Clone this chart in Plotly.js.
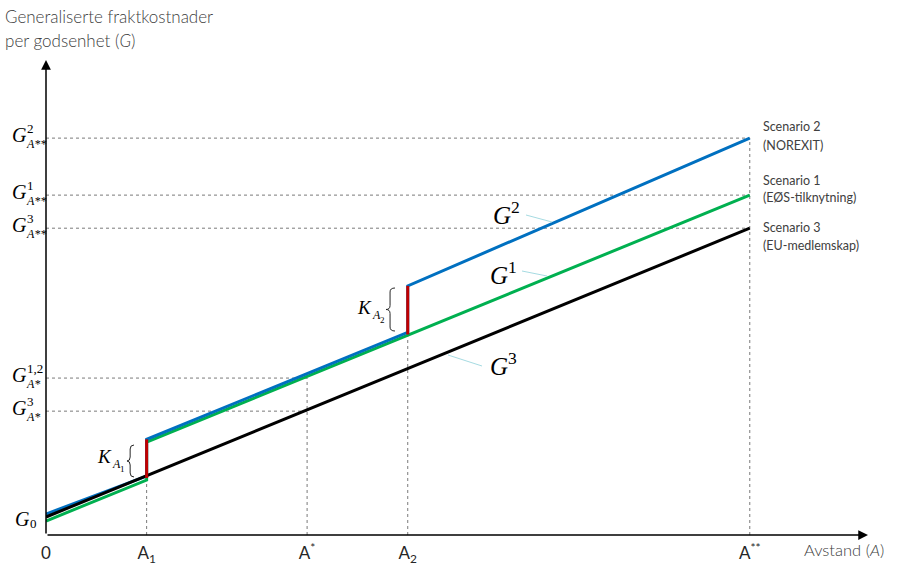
<!DOCTYPE html>
<html>
<head>
<meta charset="utf-8">
<script src="https://cdn.plot.ly/plotly-3.0.1.min.js"></script>
<style>
  html, body { margin: 0; padding: 0; background: #fff; }
  #chart { width: 897px; height: 568px; }
</style>
</head>
<body>
<div id="chart"></div>
<script>
// distance positions (A** = 100)
const xTickVals = [0, 14.3, 37.1, 51.4, 100];
const xTickText = ['0', 'A<sub>1</sub>', 'A<sup>*</sup>', 'A<sub>2</sub>', 'A<sup>**</sup>'];

// cost curves
const g2X = [0, 14.3, 14.3, 51.4, 51.4, 100];
const g2Y = [2.98, 8.38, 13.6, 28.8, 35.4, 56.4];
const g1X = [0, 14.3, 14.3, 100];
const g1Y = [1.99, 7.81, 13.2, 48.3];
const g3X = [0, 100];
const g3Y = [2.56, 43.6];

// border crossing jumps K
const kX = [14.3, 14.3, null, 51.4, 51.4];
const kY = [8.1, 13.6, null, 28.5, 35.4];

// dotted guides
const guideY = [56.4, 48.3, 43.6, 22.3, 17.6];
const guideYEnd = [100, 100, 100, 37.1, 37.1];
const guideYSup = ['2', '1', '3', '1,2', '3'];
const guideYSub = ['A**', 'A**', 'A**', 'A*', 'A*'];
const guideX = [14.3, 37.1, 51.4, 100];
const guideXTop = [8.1, 22.3, 28.5, 56.4];

const scenarioLines = [
  ['Scenario 2', 127], ['(NOREXIT)', 145],
  ['Scenario 1', 180], ['(EØS-tilknytning)', 198],
  ['Scenario 3', 227], ['(EU-medlemskap)', 245]
];

const xMax = 116.8, yMax = 67.5;
const L = 46, R = 868, T = 60, B = 535;
const px = v => (v - L) / (R - L);
const py = v => (B - v) / (B - T);

const sans = 'Lato, "Open Sans", sans-serif';
const serif = '"Liberation Serif", "DejaVu Serif", serif';
const txtCol = '#404040';

function ann(text, x, y, size, family, xanchor, color, weight) {
  return {
    text: text, x: px(x), y: py(y), xref: 'paper', yref: 'paper',
    showarrow: false, xanchor: xanchor || 'center', yanchor: 'middle',
    font: {family: family, size: size, color: color || '#000', weight: weight || 'normal'}
  };
}

// curly brace drawn as a thin path, pixel box -> paper coords
function brace(x, y0, y1, w) {
  const m = (y0 + y1) / 2, xi = x + w * 0.45, r = 4;
  const p = (a, b) => px(a).toFixed(5) + ',' + py(b).toFixed(5);
  const d = 'M' + p(x + w, y0) + ' Q' + p(xi, y0) + ' ' + p(xi, y0 + r) +
    ' L' + p(xi, m - r) + ' Q' + p(xi, m) + ' ' + p(x, m) +
    ' Q' + p(xi, m) + ' ' + p(xi, m + r) +
    ' L' + p(xi, y1 - r) + ' Q' + p(xi, y1) + ' ' + p(x + w, y1);
  return {type: 'path', xref: 'paper', yref: 'paper', path: d, line: {color: '#262626', width: 1}};
}

// guide line traces
const gx = [], gy = [];
guideY.forEach((v, i) => { gx.push(0, guideYEnd[i], null); gy.push(v, v, null); });
guideX.forEach((v, i) => { gx.push(v, v, null); gy.push(0, guideXTop[i], null); });

const traces = [
  {x: gx, y: gy, type: 'scatter', mode: 'lines', line: {color: '#7a7a7a', width: 1, dash: 'dot'}, hoverinfo: 'skip'},
  {x: g1X, y: g1Y, type: 'scatter', mode: 'lines', line: {color: '#00B050', width: 3}, name: 'G1'},
  {x: g2X, y: g2Y, type: 'scatter', mode: 'lines', line: {color: '#0070C0', width: 3}, name: 'G2'},
  {x: g3X, y: g3Y, type: 'scatter', mode: 'lines', line: {color: '#000000', width: 3}, name: 'G3'},
  {x: kX, y: kY, type: 'scatter', mode: 'lines', line: {color: '#C00000', width: 3}, name: 'K'}
];

const annotations = [];

// axis arrows
annotations.push({x: xMax, y: 0, ax: 0, ay: 0, xref: 'x', yref: 'y', axref: 'x', ayref: 'y',
  text: '', showarrow: true, arrowhead: 2, arrowsize: 1.3, arrowwidth: 1.5, arrowcolor: '#000'});
annotations.push({x: 0, y: yMax, ax: 0, ay: 0, xref: 'x', yref: 'y', axref: 'x', ayref: 'y',
  text: '', showarrow: true, arrowhead: 2, arrowsize: 1.3, arrowwidth: 1.5, arrowcolor: '#000'});

// y axis labels
guideY.forEach((v, i) => {
  const yp = B - v * (B - T) / yMax;
  annotations.push(ann('<i>G</i>', 19, yp - 3, 20, serif));
  annotations.push(ann(guideYSup[i], 25, yp - 10, 13, serif, 'left'));
  annotations.push(ann('<i>' + guideYSub[i] + '</i>', 24, yp + 6, 12, serif, 'left'));
});
annotations.push(ann('<i>G</i>', 22, 519, 20, serif));
annotations.push(ann('0', 28, 523, 13, serif, 'left'));

// title
annotations.push(ann('Generaliserte fraktkostnader', 3, 17, 17, sans, 'left', txtCol, 300));
annotations.push(ann('per godsenhet (<i>G</i>)', 3, 41, 17, sans, 'left', txtCol, 300));

// x axis title
annotations.push(ann('Avstand (<i>A</i>)', 802, 550, 16.5, sans, 'left', txtCol, 300));

// scenario labels
scenarioLines.forEach(s => annotations.push(ann(s[0], 761, s[1], 12.5, sans, 'left', txtCol)));

// curve labels
annotations.push(ann('<i>G</i><sup>2</sup>', 506, 213, 25, serif));
annotations.push(ann('<i>G</i><sup>1</sup>', 503, 273, 25, serif));
annotations.push(ann('<i>G</i><sup>3</sup>', 503, 364, 25, serif));

// K labels
annotations.push(ann('<i>K</i>', 104, 456, 19, serif));
annotations.push(ann('<i>A</i>', 110, 464, 12, serif, 'left'));
annotations.push(ann('1', 118, 469, 9, serif, 'left'));
annotations.push(ann('<i>K</i>', 364, 307, 19, serif));
annotations.push(ann('<i>A</i>', 370, 315, 12, serif, 'left'));
annotations.push(ann('2', 378, 320, 9, serif, 'left'));

// leader lines and braces
const shapes = [
  [526, 215, 552, 222], [522, 271, 547, 276], [448, 355, 482, 366]
].map(s => ({type: 'line', xref: 'paper', yref: 'paper', x0: px(s[0]), y0: py(s[1]), x1: px(s[2]), y1: py(s[3]),
  line: {color: '#a6dbe2', width: 1}}));
shapes.push(brace(127, 445, 477, 7));
shapes.push(brace(386, 288, 331, 9));

const layout = {
  width: 897, height: 568,
  margin: {l: L, r: 897 - R, t: T, b: 568 - B},
  paper_bgcolor: '#fff', plot_bgcolor: '#fff',
  showlegend: false,
  xaxis: {range: [0, xMax], showgrid: false, zeroline: false, showline: false,
    tickvals: xTickVals, ticktext: xTickText, ticks: '', ticklabelstandoff: 6,
    tickfont: {family: sans, size: 17, color: '#262626'}},
  yaxis: {range: [0, yMax], showgrid: false, zeroline: false, showline: false, showticklabels: false},
  annotations: annotations,
  shapes: shapes
};

Plotly.newPlot('chart', traces, layout, {staticPlot: true});
</script>
</body>
</html>
